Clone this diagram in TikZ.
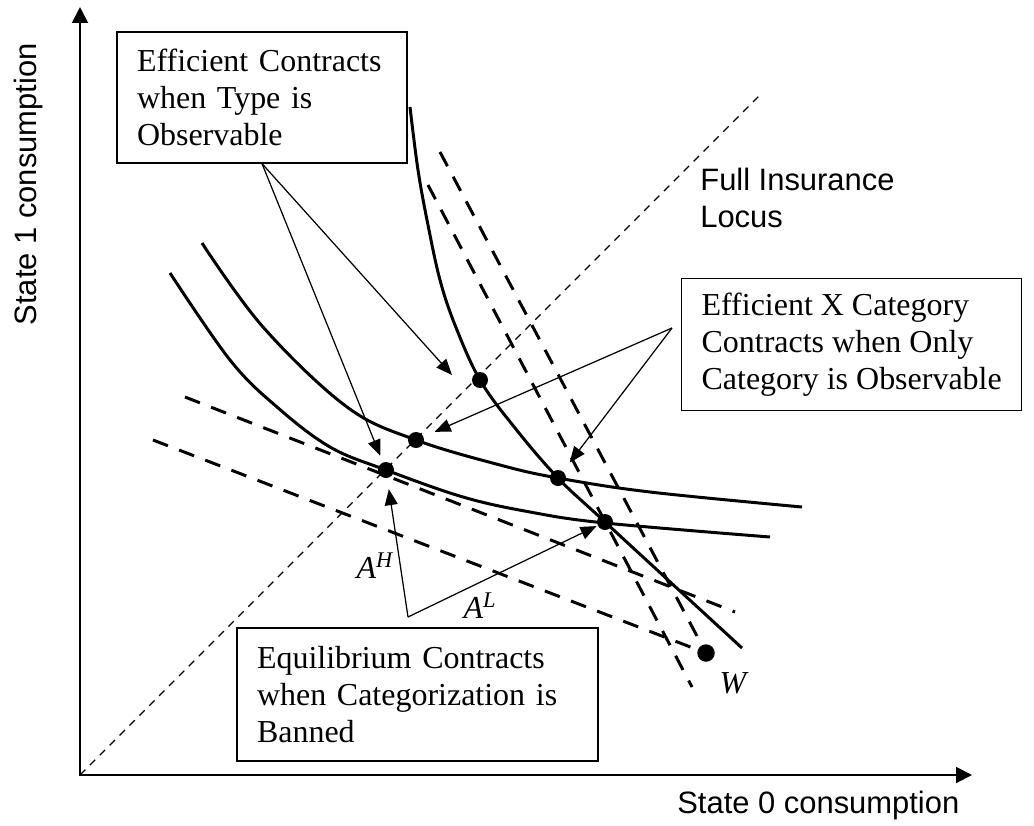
\documentclass[tikz,border=0pt]{standalone}
\usepackage{fontspec}
\setmainfont{Liberation Serif}
\newfontfamily\axisfont{Liberation Sans}
\usetikzlibrary{arrows.meta}

\begin{document}
\begin{tikzpicture}[x=0.02cm, y=-0.02cm,
  infobox/.style={draw, line width=0.7pt, align=left, inner xsep=0.4cm, font=\fontsize{18.2}{21}\selectfont},
  contract/.style={circle, fill, inner sep=0pt, minimum size=0.32cm},
  indiff/.style={line width=1.7pt},
  budget/.style={line width=1.7pt, dash pattern=on 0.32cm off 0.24cm},
  certainty/.style={line width=0.75pt, dash pattern=on 0.15cm off 0.13cm},
  axisline/.style={line width=1.1pt, {Triangle[length=0.32cm, width=0.32cm]}-{Triangle[length=0.32cm, width=0.32cm]}},
  pointer/.style={line width=0.7pt, -{Triangle[length=0.32cm, width=0.26cm]}},
  axislabel/.style={font=\axisfont\fontsize{17.6}{21}\selectfont, inner sep=0pt, align=left},
  letter/.style={font=\fontsize{18.2}{21}\selectfont\itshape, inner sep=0pt}]
  \useasboundingbox (0,0) rectangle (1034,825);

  % axes
  \coordinate (O) at (80,775);
  \coordinate (ytip) at (80,7);
  \coordinate (xtip) at (972,775);
  \draw[axisline] (ytip) -- (O) -- (xtip);
  \node[axislabel, anchor=base west] (xlab) at (677,813) {State 0 consumption};
  \node[axislabel, rotate=90, anchor=base east] (ylab) at (36,43) {State 1 consumption};

  % full insurance locus
  \coordinate (fi) at (762,93);
  \draw[certainty] (O) -- (fi);
  \node[axislabel, anchor=north west] (filab) at (700,168) {Full Insurance\\Locus};

  % contracts
  \node[contract] (pH) at (386,470) {};
  \node[contract] (pM) at (416,440) {};
  \node[contract] (pT) at (480,380) {};
  \node[contract] (pX) at (558,478) {};
  \node[contract] (pL) at (605,522) {};
  \node[contract, minimum size=0.35cm] (w) at (706,653) {};
  \node[letter] (wlab) at (733,683) {W};
  \node[letter] (aH) at (375,566) {A\textsuperscript{H}};
  \node[letter] (aL) at (480,606) {A\textsuperscript{L}};

  % indifference curves
  \draw[indiff] plot[smooth, tension=0.6] coordinates {(410,107) (418,170) (428,225) (440,280) (455,325) (480,380) (515,428) (558,478) (605,522) (742,648)};
  \draw[indiff] plot[smooth, tension=0.6] coordinates {(202,243) (263,327) (347,407) (416,440) (500,465) (558,478) (650,492) (802,507)};
  \draw[indiff] plot[smooth, tension=0.6] coordinates {(170,273) (230,360) (277,407) (330,447) (386,470) (463,497) (530,512) (605,523) (770,537)};

  % zero profit lines
  \coordinate (d1a) at (185,397);
  \coordinate (d1b) at (735,612);
  \coordinate (d2a) at (153,440);
  \coordinate (d3a) at (428,185);
  \coordinate (d3b) at (692,687);
  \coordinate (d4a) at (440,152);
  \draw[budget] (d1a) -- (d1b);
  \draw[budget] (d2a) -- (w);
  \draw[budget] (d3a) -- (d3b);
  \draw[budget] (d4a) -- (w);

  % boxes
  \node[infobox, text width=5cm, minimum height=2.62cm] (box1) at (262,97.5) {Efficient Contracts\\when Type is\\Observable};
  \node[infobox, minimum height=2.64cm, anchor=north west] (box2) at (681,278) {Efficient X Category\\Contracts when Only\\Category is Observable};
  \node[infobox, text width=6.42cm, minimum height=2.66cm] (box3) at (417.5,694.5) {Equilibrium Contracts\\when Categorization is\\Banned};

  % pointers
  \coordinate (t1) at (452,375);
  \coordinate (v2) at (672,328);
  \coordinate (v3) at (408,617);
  \draw[pointer, shorten >=0.14cm] (box1.south) -- (pH);
  \draw[pointer] (box1.south) -- (t1);
  \draw[pointer, shorten >=0.24cm] (v2) -- (pM);
  \draw[pointer, shorten >=0.22cm] (v2) -- (pX);
  \draw[pointer, shorten >=0.22cm] (v3) -- (pH);
  \draw[pointer, shorten >=0.02cm] (v3) -- (pL);
\end{tikzpicture}
\end{document}
